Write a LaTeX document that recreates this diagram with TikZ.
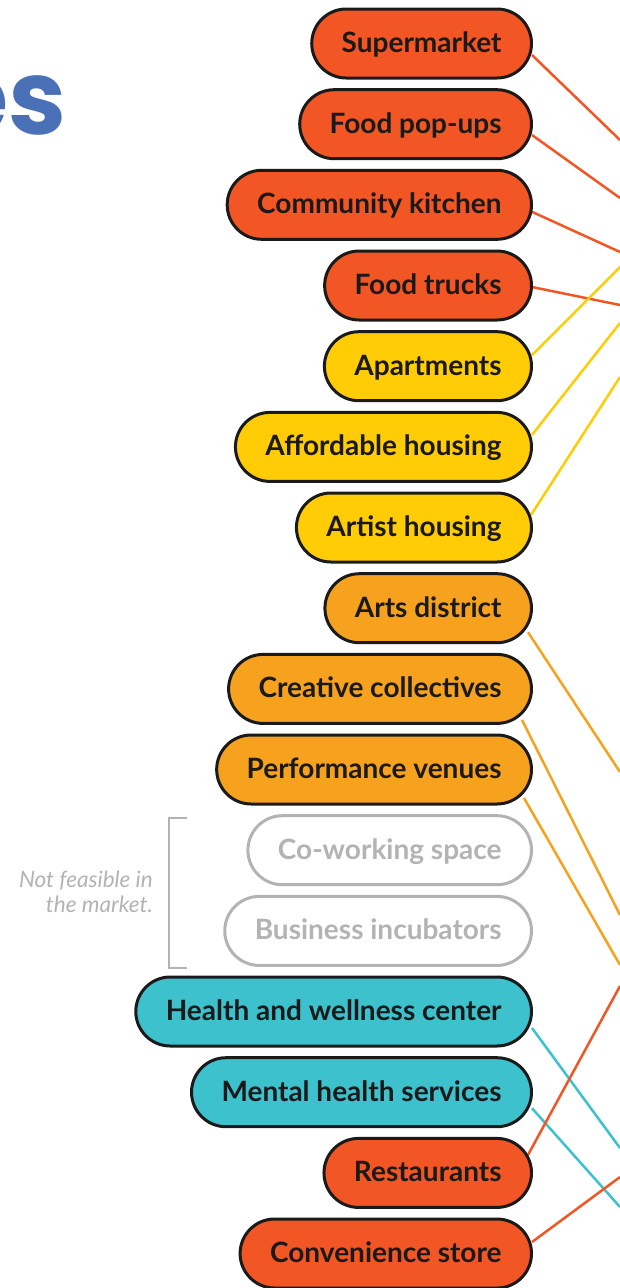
\documentclass[tikz,border=0pt]{standalone}
\usepackage{fontspec}
\setmainfont{Lato}
\newfontfamily\titlefont{Poppins}
\usetikzlibrary{positioning, backgrounds}

\definecolor{tomato}{RGB}{241,86,36}
\definecolor{sun}{RGB}{255,204,5}
\definecolor{amber}{RGB}{247,162,30}
\definecolor{teal}{RGB}{60,193,205}
\definecolor{mute}{RGB}{179,179,179}
\definecolor{ink}{RGB}{26,26,26}
\definecolor{title}{RGB}{74,112,183}

\tikzset{
    pill/.style={draw=ink, line width=3pt, rounded corners=34.5pt, minimum height=69pt,
        inner xsep=30pt, inner ysep=0pt, anchor=east, text=ink,
        text height=18pt, text depth=0pt,
        font=\fontsize{28}{30}\selectfont\bfseries},
    redbox/.style={pill, fill=tomato},
    sunbox/.style={pill, fill=sun},
    amberbox/.style={pill, fill=amber},
    tealbox/.style={pill, fill=teal},
    mutebox/.style={pill, draw=mute, fill=white, text=mute},
    link/.style={line width=2.5pt},
}

\begin{document}
\begin{tikzpicture}[x=1pt, y=-1pt]
    \useasboundingbox (0, 0) rectangle (620, 1288);

    % title fragment
    \node[anchor=base east, inner sep=0pt, text=title, font=\titlefont\fontsize{104}{110}\selectfont\bfseries] (head) at (67, 134) {es};

    \node[redbox] (super) at (533, 43.5) {Supermarket};
    \node[redbox] (popups) at (533, 124.2) {Food pop-ups};
    \node[redbox] (kitchen) at (533, 204.8) {Community kitchen};
    \node[redbox] (trucks) at (533, 285.5) {Food trucks};
    \node[sunbox] (apts) at (533, 366.2) {Apartments};
    \node[sunbox] (afford) at (533, 446.9) {Affordable housing};
    \node[sunbox] (artist) at (533, 527.5) {Artist housing};
    \node[amberbox] (arts) at (533, 608.2) {Arts district};
    \node[amberbox] (collect) at (533, 688.9) {Creative collectives};
    \node[amberbox] (venues) at (533, 769.5) {Performance venues};
    \node[mutebox] (cowork) at (533, 850.2) {Co-working space};
    \node[mutebox] (incub) at (533, 930.9) {Business incubators};
    \node[tealbox] (health) at (533, 1011.5) {Health and wellness center};
    \node[tealbox] (mental) at (533, 1092.2) {Mental health services};
    \node[redbox] (rest) at (533, 1172.9) {Restaurants};
    \node[redbox] (conv) at (533, 1253.5) {Convenience store};

    % not feasible note
    \draw[mute, line width=2pt] (187, 818) -- (169, 818) -- (169, 968) -- (187, 968);
    \node[anchor=base east, align=right, text=mute, inner sep=0pt,
        font=\fontsize{22.5}{25}\selectfont\itshape] (note) at (153, 912) {Not feasible in\\the market.};

    % line ends at the page edge
    \coordinate (superEnd) at (620, 140);
    \coordinate (popupsEnd) at (620, 198);
    \coordinate (kitchenEnd) at (620, 252);
    \coordinate (trucksEnd) at (620, 305);
    \coordinate (aptsEnd) at (620, 267);
    \coordinate (affordEnd) at (620, 323);
    \coordinate (artistEnd) at (620, 377);
    \coordinate (artsEnd) at (620, 772);
    \coordinate (collectEnd) at (620, 915);
    \coordinate (venuesEnd) at (620, 965);
    \coordinate (healthEnd) at (620, 1148);
    \coordinate (mentalEnd) at (620, 1207);
    \coordinate (restEnd) at (620, 986);
    \coordinate (convEnd) at (620, 1177);

    \begin{scope}[on background layer]
        \draw[link, tomato] ([shift={(-1, 11.5)}]super.east) -- (superEnd);
        \draw[link, tomato] ([shift={(-1, 10.8)}]popups.east) -- (popupsEnd);
        \draw[link, tomato] ([shift={(-1, 7)}]kitchen.east) -- (kitchenEnd);
        \draw[link, tomato] ([shift={(-1, 1.5)}]trucks.east) -- (trucksEnd);
        \draw[link, sun] ([shift={(-1, -11)}]apts.east) -- (aptsEnd);
        \draw[link, sun] ([shift={(-1, -12)}]afford.east) -- (affordEnd);
        \draw[link, sun] ([shift={(-2, -12.5)}]artist.east) -- (artistEnd);
        \draw[link, amber] ([shift={(-5, 24)}]arts.east) -- (artsEnd);
        \draw[link, amber] ([shift={(-11, 31)}]collect.east) -- (collectEnd);
        \draw[link, amber] ([shift={(-9, 28.5)}]venues.east) -- (venuesEnd);
        \draw[link, teal] ([shift={(-1, 16.5)}]health.east) -- (healthEnd);
        \draw[link, teal] ([shift={(-1, 16)}]mental.east) -- (mentalEnd);
        \draw[link, tomato] ([shift={(-5, -18)}]rest.east) -- (restEnd);
        \draw[link, tomato] ([shift={(-1, -11.5)}]conv.east) -- (convEnd);
    \end{scope}
\end{tikzpicture}
\end{document}
